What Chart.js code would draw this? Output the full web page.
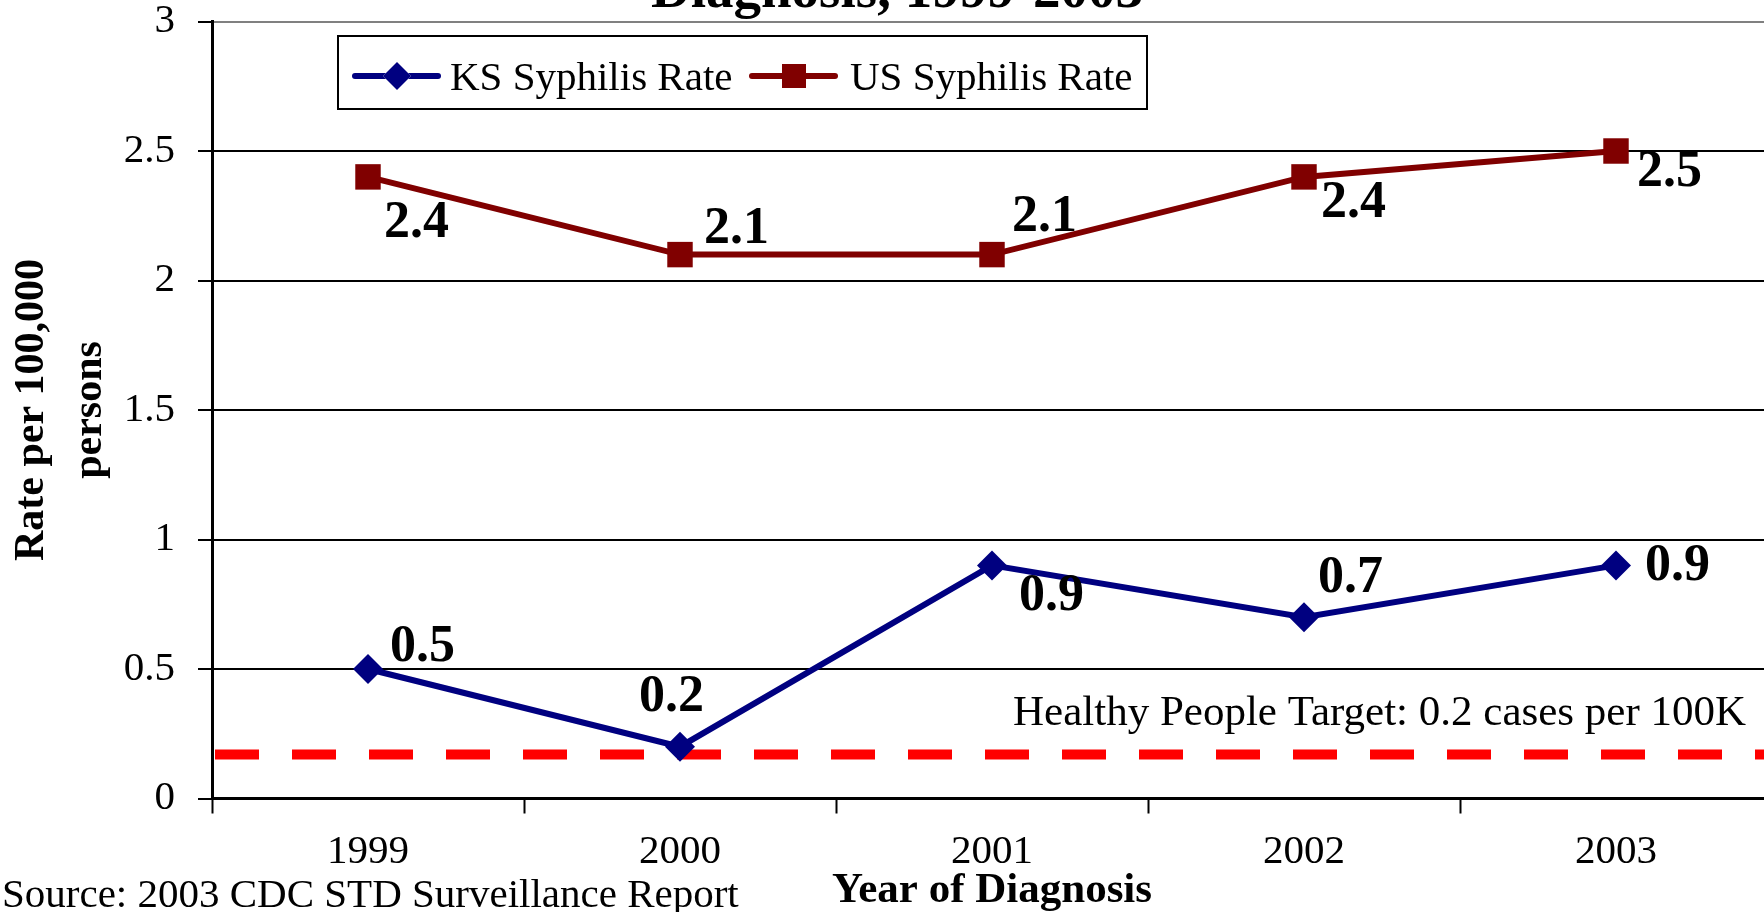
<!DOCTYPE html>
<html>
<head>
<meta charset="utf-8">
<script src="https://cdn.jsdelivr.net/npm/chart.js@4.4.0/dist/chart.umd.min.js"></script>
<style>
  html, body { margin: 0; padding: 0; background: #fff; overflow: hidden; }
  #wrap { width: 1790px; height: 912px; }
  canvas { display: block; }
</style>
</head>
<body>
<div id="wrap"><canvas id="rateChart" width="1790" height="912"></canvas></div>
<script>
// chart data
var years = ['1999', '2000', '2001', '2002', '2003'];
var ksRates = [0.5, 0.2, 0.9, 0.7, 0.9];
var usRates = [2.4, 2.1, 2.1, 2.4, 2.5];
var seriesNames = ['KS Syphilis Rate', 'US Syphilis Rate'];
var yTicks = [0, 0.5, 1, 1.5, 2, 2.5, 3];
var targetRate = 0.17; // where the dashed target line sits in the picture
var targetText = 'Healthy People Target: 0.2 cases per 100K';

var serif = '"Liberation Serif", "Times New Roman", serif';
Chart.defaults.font.family = serif;
Chart.defaults.color = '#000';

// where each value label sits relative to its point (left edge, baseline)
var labelOffsets = [
  [[22, -8], [-41, -36], [27, 45], [14, -25], [29, 15]],
  [[16, 60], [24, -12], [20, -24], [17, 40], [21, 35]]
];

var extras = {
  id: 'extras',
  beforeDatasetsDraw: function(chart) {
    var ctx = chart.ctx, area = chart.chartArea;
    var y = chart.scales.y.getPixelForValue(targetRate);
    ctx.save();
    ctx.strokeStyle = '#FF0000';
    ctx.lineWidth = 10;
    ctx.setLineDash([44, 33]);
    ctx.beginPath();
    ctx.moveTo(area.left + 3, y);
    ctx.lineTo(area.right, y);
    ctx.stroke();
    ctx.setLineDash([]);
    ctx.fillStyle = '#000';
    ctx.font = '43px ' + serif;
    ctx.textAlign = 'right';
    ctx.textBaseline = 'alphabetic';
    ctx.fillText(targetText, 1746, y - 29);
    ctx.restore();
  },
  afterDatasetsDraw: function(chart) {
    var ctx = chart.ctx;
    ctx.save();
    ctx.fillStyle = '#000';
    ctx.font = 'bold 52px ' + serif;
    ctx.textAlign = 'left';
    ctx.textBaseline = 'alphabetic';
    chart.data.datasets.forEach(function(ds, i) {
      var meta = chart.getDatasetMeta(i);
      meta.data.forEach(function(pt, j) {
        var off = labelOffsets[i][j];
        ctx.fillText(ds.data[j].toFixed(1), pt.x + off[0], pt.y + off[1]);
      });
    });
    ctx.restore();
  },
  afterDraw: function(chart) {
    var ctx = chart.ctx;
    ctx.save();
    // title (first line is off the top of the picture)
    ctx.fillStyle = '#000';
    ctx.font = 'bold 55px ' + serif;
    ctx.textAlign = 'center';
    ctx.textBaseline = 'alphabetic';
    ctx.fillText('Diagnosis, 1999-2003', 897, 7);

    // legend box
    ctx.fillStyle = '#fff';
    ctx.fillRect(338, 36, 809, 73);
    ctx.strokeStyle = '#000';
    ctx.lineWidth = 2;
    ctx.strokeRect(338, 36, 809, 73);
    var items = [[355, 450], [752, 850]];
    ctx.font = '41px ' + serif;
    ctx.textAlign = 'left';
    chart.data.datasets.forEach(function(ds, i) {
      var x0 = items[i][0], y = 76;
      ctx.strokeStyle = ds.borderColor;
      ctx.lineWidth = 6;
      ctx.lineCap = 'round';
      ctx.beginPath();
      ctx.moveTo(x0, y);
      ctx.lineTo(x0 + 83, y);
      ctx.stroke();
      Chart.helpers.drawPoint(ctx, {
        pointStyle: ds.pointStyle, radius: ds.pointRadius - 1, borderWidth: 0, rotation: 0
      }, x0 + 42, y);
      ctx.fillStyle = ds.borderColor;
      ctx.fill();
      ctx.fillStyle = '#000';
      ctx.fillText(ds.label, items[i][1], 90);
    });

    // source note
    ctx.font = '41px ' + serif;
    ctx.textAlign = 'left';
    ctx.fillText('Source: 2003 CDC STD Surveillance Report', 2, 907);
    ctx.restore();
  }
};

var ctx = document.getElementById('rateChart').getContext('2d');
var rateChart = new Chart(ctx, {
  type: 'line',
  data: {
    labels: years,
    datasets: [{
      label: seriesNames[0],
      data: ksRates,
      borderColor: '#000080',
      backgroundColor: '#000080',
      borderWidth: 6,
      pointStyle: 'rectRot',
      pointRadius: 15,
      pointBorderWidth: 0,
      pointBackgroundColor: '#000080',
      tension: 0,
      clip: false
    }, {
      label: seriesNames[1],
      data: usRates,
      borderColor: '#800000',
      backgroundColor: '#800000',
      borderWidth: 6,
      pointStyle: 'rect',
      pointRadius: 18,
      pointBorderWidth: 0,
      pointBackgroundColor: '#800000',
      tension: 0,
      clip: false
    }]
  },
  options: {
    responsive: false,
    animation: false,
    layout: { padding: { top: 21.5, right: 15, bottom: 0, left: 0 } },
    plugins: {
      legend: { display: false },
      tooltip: { enabled: false }
    },
    scales: {
      x: {
        type: 'category',
        offset: true,
        afterFit: function(scale) { scale.height = 113.5; },
        grid: {
          offset: true,
          drawOnChartArea: false,
          drawTicks: true,
          tickLength: 15,
          tickWidth: 2,
          tickColor: '#000'
        },
        border: { display: true, color: '#000', width: 3 },
        ticks: {
          font: { size: 41, lineHeight: 1.2 },
          color: '#000',
          padding: 14,
          maxRotation: 0,
          autoSkip: false
        },
        title: {
          display: true,
          text: 'Year of Diagnosis',
          font: { size: 43, weight: 'bold', lineHeight: 1 },
          color: '#000',
          padding: { top: 0, bottom: 0 }
        }
      },
      y: {
        min: 0,
        max: 3,
        afterFit: function(scale) {
          scale.width = 212;
          scale.paddingTop = 0;
          scale.paddingBottom = 0;
        },
        afterBuildTicks: function(scale) {
          scale.ticks = yTicks.map(function(v) { return { value: v }; });
        },
        grid: {
          color: function(c) { return c.tick && c.tick.value === 3 ? '#808080' : '#000'; },
          lineWidth: 2,
          drawTicks: true,
          tickLength: 14,
          tickWidth: 2,
          tickColor: '#000'
        },
        border: { display: true, color: '#000', width: 3 },
        ticks: {
          font: { size: 41, lineHeight: 1 },
          color: '#000',
          padding: 23,
          callback: function(v) { return String(v); }
        },
        title: {
          display: true,
          text: ['Rate per 100,000', 'persons'],
          font: { size: 42, weight: 'bold', lineHeight: 1.38 },
          color: '#000',
          padding: { top: 3, bottom: 0 }
        }
      }
    }
  },
  plugins: [extras]
});
</script>
</body>
</html>
